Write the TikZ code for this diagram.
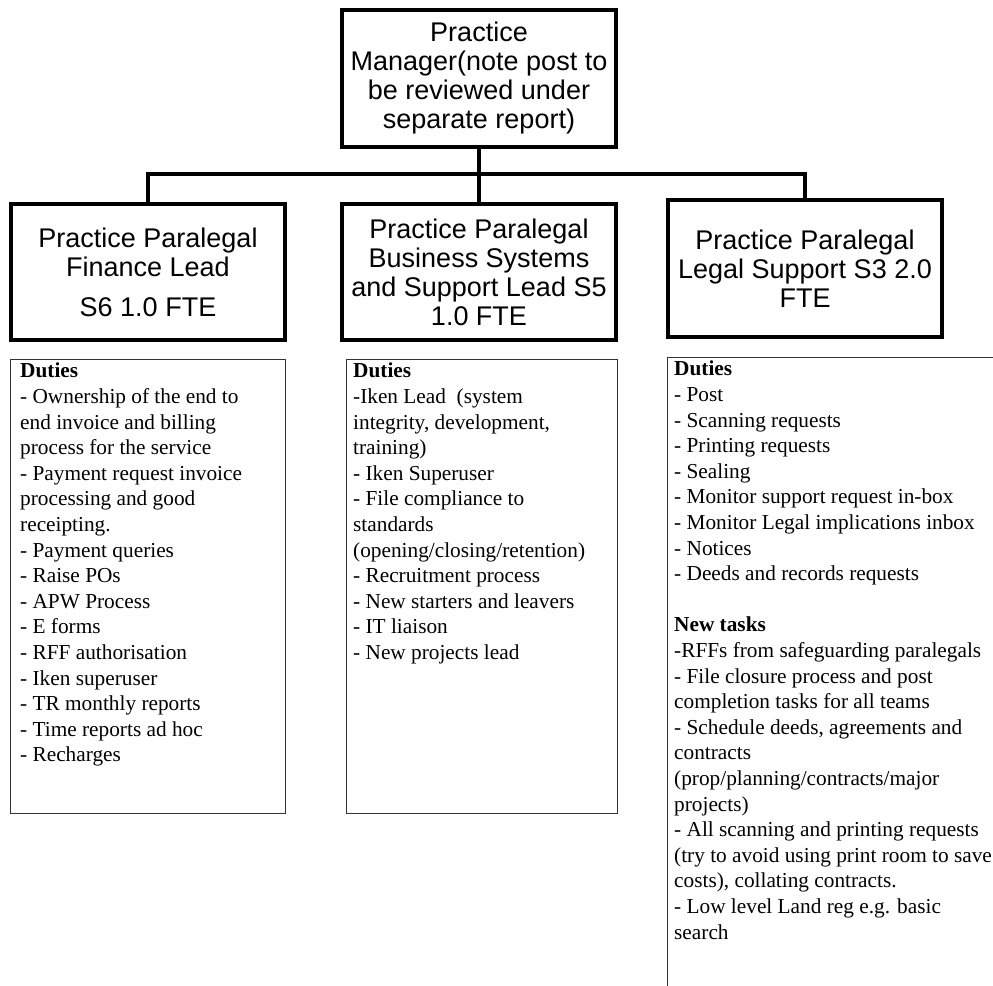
\documentclass[tikz,border=0pt]{standalone}
\usepackage{fontspec}
\setmainfont{Liberation Serif}
\newfontfamily\hfont{Liberation Sans}
\begin{document}
\begin{tikzpicture}[x=1pt,y=1pt,
  hbox/.style={draw=black, line width=4pt, fill=white, align=center, inner sep=0pt,
    font=\hfont\fontsize{27}{29}\selectfont},
  conn/.style={draw=black, line width=4pt},
  dbox/.style={draw=black!80, line width=1.3pt, inner sep=0pt},
  dtext/.style={align=left, inner sep=0pt, anchor=north west,
    font=\fontsize{21.3}{25.6}\selectfont}
]
\useasboundingbox (0,0) rectangle (993,-985);
\fill[white] (0,0) rectangle (993,-985);

% header boxes
\node[hbox, minimum width=274, minimum height=137] (pm) at (479,-78.5)
  {Practice\\Manager(note post to\\be reviewed under\\separate report)};
\node[hbox, minimum width=274, minimum height=136] (fin) at (148,-272)
  {Practice Paralegal\\Finance Lead\\[11pt]S6 1.0 FTE};
\node[hbox, minimum width=274, minimum height=136] (bus) at (479,-272)
  {Practice Paralegal\\Business Systems\\and Support Lead S5\\1.0 FTE};
\node[hbox, minimum width=274, minimum height=137] (leg) at (805,-268.5)
  {Practice Paralegal\\Legal Support S3 2.0\\FTE};

% connectors
\coordinate (j) at (479,-174);
\draw[conn] (pm.south) -- (j);
\draw[conn] (fin.north) |- (j);
\draw[conn] (leg.north) |- (j);
\draw[conn] (bus.north) -- (j);

% duty boxes
\node[dbox, anchor=north west, minimum width=275, minimum height=454] (finD) at (10,-359) {};
\node[dtext] (finT) at (20,-363) {\textbf{Duties}\\
- Ownership of the end to\\
end invoice and billing\\
process for the service\\
- Payment request invoice\\
processing and good\\
receipting.\\
- Payment queries\\
- Raise POs\\
- APW Process\\
- E forms\\
- RFF authorisation\\
- Iken superuser\\
- TR monthly reports\\
- Time reports ad hoc\\
- Recharges};

\node[dbox, anchor=north west, minimum width=271, minimum height=454] (busD) at (346,-359) {};
\node[dtext] (busT) at (353,-363) {\textbf{Duties}\\
-Iken Lead\ \ (system\\
integrity, development,\\
training)\\
- Iken Superuser\\
- File compliance to\\
standards\\
(opening/closing/retention)\\
- Recruitment process\\
- New starters and leavers\\
- IT liaison\\
- New projects lead};

\begin{scope}
\clip (0,0) rectangle (993,-985);
\node[dbox, anchor=north west, minimum width=400, minimum height=700] (legD) at (667,-357) {};
\end{scope}
\node[dtext] (legT) at (674,-361) {\textbf{Duties}\\
- Post\\
- Scanning requests\\
- Printing requests\\
- Sealing\\
- Monitor support request in-box\\
- Monitor Legal implications inbox\\
- Notices\\
- Deeds and records requests\\[25.6pt]
\textbf{New tasks}\\
-RFFs from safeguarding paralegals\\
- File closure process and post\\
completion tasks for all teams\\
- Schedule deeds, agreements and\\
contracts\\
(prop/planning/contracts/major\\
projects)\\
- All scanning and printing requests\\
(try to avoid using print room to save\\
costs), collating contracts.\\
- Low level Land reg e.g. basic\\
search};
\end{tikzpicture}
\end{document}
